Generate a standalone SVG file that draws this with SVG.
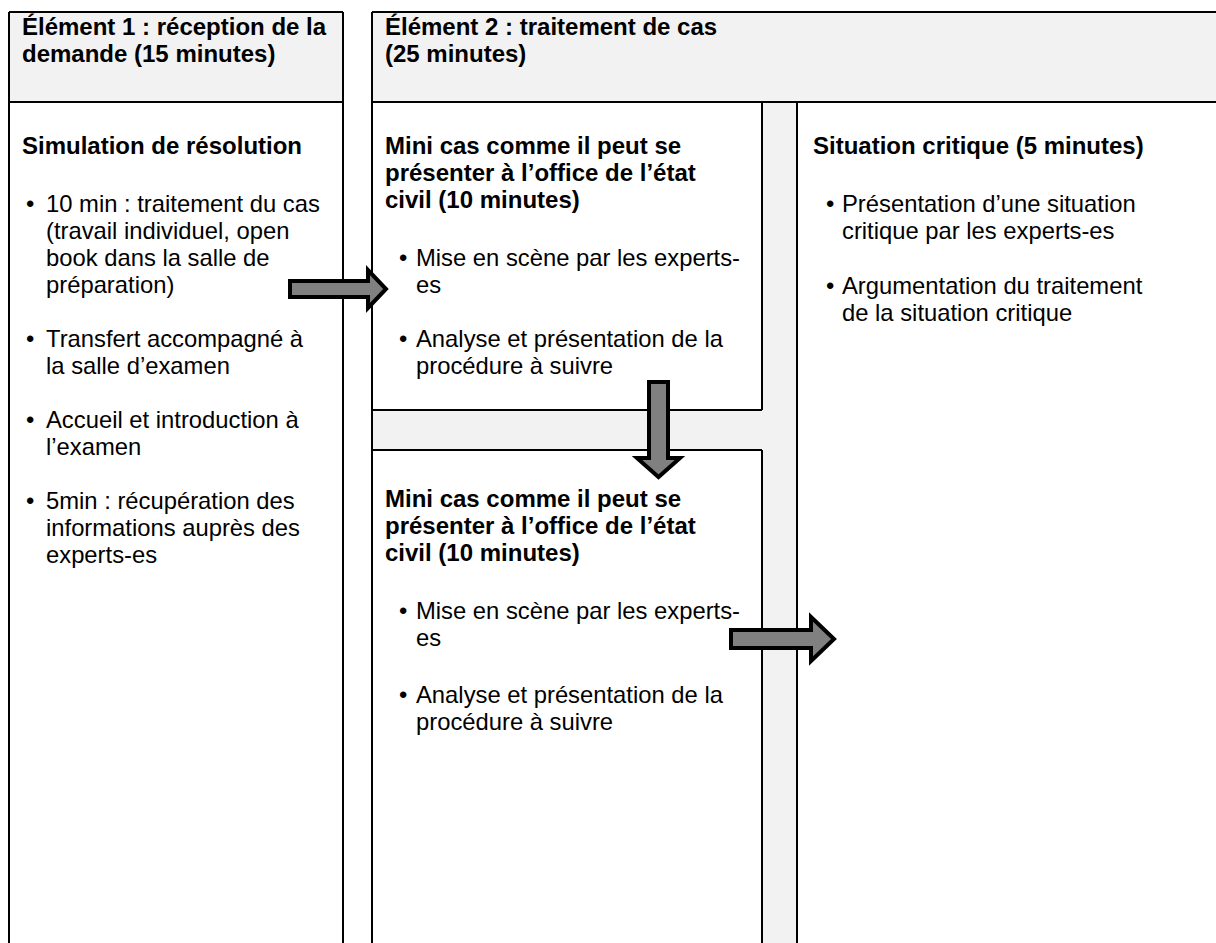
<svg xmlns="http://www.w3.org/2000/svg" width="1216" height="943" viewBox="0 0 1216 943">
<style>
text{font-family:"Liberation Sans",Arial,sans-serif;font-size:23.8px;fill:#000}
.b{font-weight:bold;font-size:24px}
.fill{fill:#f2f2f2;stroke:none}
.ln{stroke:#000;stroke-width:2;fill:none}
.arr{fill:#808080;stroke:#000;stroke-width:4;stroke-linejoin:miter}
</style>
<rect width="1216" height="943" fill="#fff"/>
<g id="backgrounds">
<rect class="fill" x="9" y="12" width="334" height="90"/>
<rect class="fill" x="372" y="12" width="844" height="90"/>
<rect class="fill" x="762" y="102" width="35" height="841"/>
<rect class="fill" x="372" y="410" width="425" height="40"/>
</g>
<g id="grid">
<path class="ln" d="M9 12H343M9 12V943M343 12V943M9 102H343"/>
<path class="ln" d="M372 12H1216M372 12V943M372 102H1216"/>
<path class="ln" d="M762 102V410M762 450V943M797 102V943M372 410H762M372 450H762"/>
</g>
<g id="element1-header">
<text class="b" x="22" y="35">Élément 1 : réception de la</text>
<text class="b" x="22" y="62">demande (15 minutes)</text>
</g>
<g id="element2-header">
<text class="b" x="385" y="35">Élément 2 : traitement de cas</text>
<text class="b" x="385" y="62">(25 minutes)</text>
</g>
<g id="simulation">
<text class="b" x="22" y="154">Simulation de résolution</text>
<text x="26" y="212">•</text>
<text x="46" y="212">10 min : traitement du cas</text>
<text x="46" y="239">(travail individuel, open</text>
<text x="46" y="266">book dans la salle de</text>
<text x="46" y="293">préparation)</text>
<text x="26" y="347">•</text>
<text x="46" y="347">Transfert accompagné à</text>
<text x="46" y="374">la salle d’examen</text>
<text x="26" y="428">•</text>
<text x="46" y="428">Accueil et introduction à</text>
<text x="46" y="455">l’examen</text>
<text x="26" y="509">•</text>
<text x="46" y="509">5min : récupération des</text>
<text x="46" y="536">informations auprès des</text>
<text x="46" y="563">experts-es</text>
</g>
<g id="minicas1">
<text class="b" x="385" y="154">Mini cas comme il peut se</text>
<text class="b" x="385" y="181">présenter à l’office de l’état</text>
<text class="b" x="385" y="208">civil (10 minutes)</text>
<text x="399" y="266">•</text>
<text x="416" y="266">Mise en scène par les experts-</text>
<text x="416" y="293">es</text>
<text x="399" y="347">•</text>
<text x="416" y="347">Analyse et présentation de la</text>
<text x="416" y="374">procédure à suivre</text>
</g>
<g id="minicas2">
<text class="b" x="385" y="507">Mini cas comme il peut se</text>
<text class="b" x="385" y="534">présenter à l’office de l’état</text>
<text class="b" x="385" y="561">civil (10 minutes)</text>
<text x="399" y="619">•</text>
<text x="416" y="619">Mise en scène par les experts-</text>
<text x="416" y="646">es</text>
<text x="399" y="703">•</text>
<text x="416" y="703">Analyse et présentation de la</text>
<text x="416" y="730">procédure à suivre</text>
</g>
<g id="situation">
<text class="b" x="813" y="154">Situation critique (5 minutes)</text>
<text x="826" y="212">•</text>
<text x="842" y="212">Présentation d’une situation</text>
<text x="842" y="239">critique par les experts-es</text>
<text x="826" y="294">•</text>
<text x="842" y="294">Argumentation du traitement</text>
<text x="842" y="321">de la situation critique</text>
</g>
<g id="connectors">
<polygon class="arr" points="290,281 368,281 368,270 386,289 368,308 368,297 290,297"/>
<polygon class="arr" points="649,382 668,382 668,458 680,458 658.5,477 637,458 649,458"/>
<polygon class="arr" points="731,630 811,630 811,617 834,639 811,661 811,648 731,648"/>
</g>
</svg>
